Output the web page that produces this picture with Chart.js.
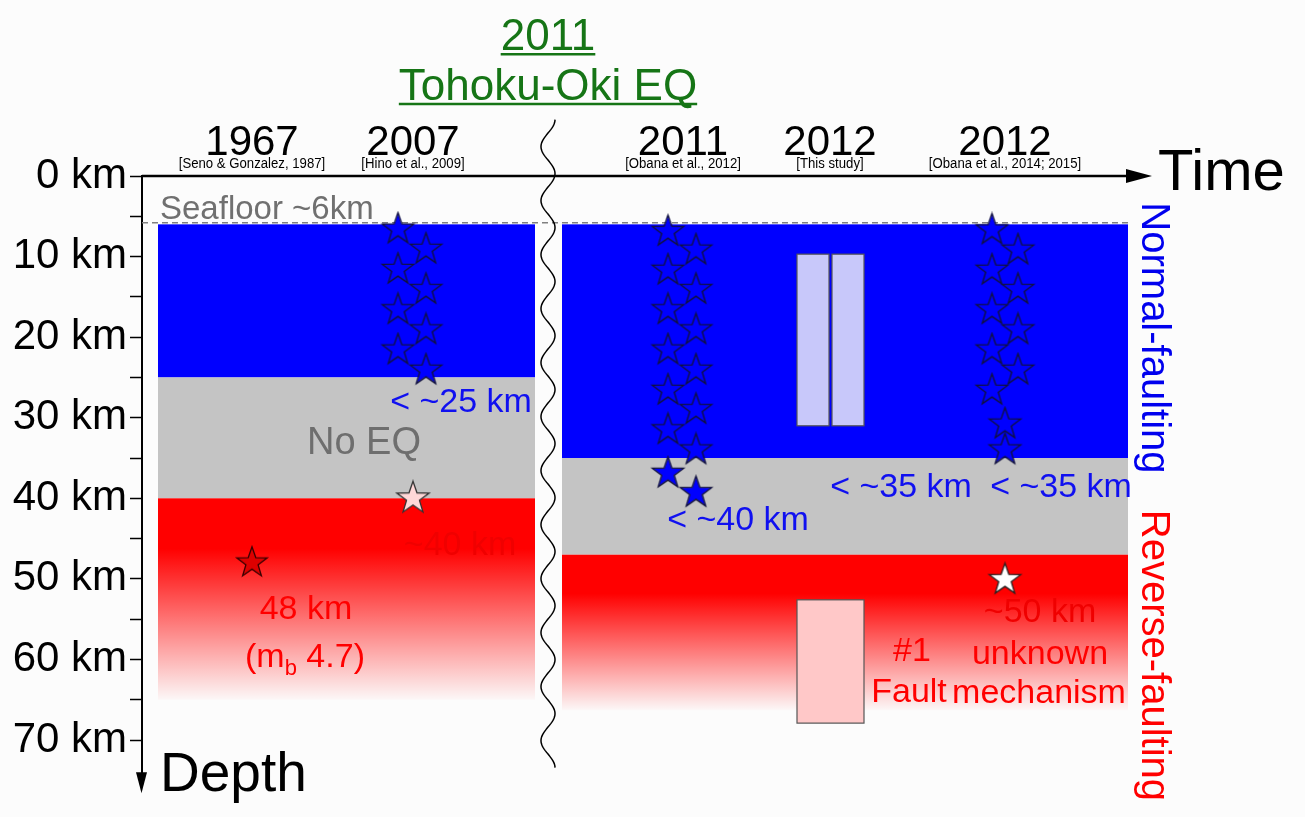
<!DOCTYPE html>
<html>
<head>
<meta charset="utf-8">
<script src="https://cdn.jsdelivr.net/npm/chart.js@4"></script>
<style>
html, body { margin: 0; padding: 0; background: #fcfcfc; }
</style>
</head>
<body>
<canvas id="depthchart" width="1305" height="817"></canvas>
<script>
// depth profile data (x in time-axis units 0..100, y in km)
var yearLabels = ['1967', '2007', '2011', '2012', '2012'];
var yearCitations = ['[Seno & Gonzalez, 1987]', '[Hino et al., 2009]', '[Obana et al., 2012]', '[This study]', '[Obana et al., 2014; 2015]'];
var yearX = [11.0, 27.1, 54.1, 68.8, 86.3];
var depthTicks = [0, 5, 10, 15, 20, 25, 30, 35, 40, 45, 50, 55, 60, 65, 70];

var panelLeft = [1.6, 42.0];
var panelRight = [39.3, 98.6];
var normalTop = [6, 6];
var normalBase = [25, 35];
var reverseTop = [40, 47];
var reverseBase = [65, 66.3];
var seafloorDepth = 6;
var breakX = 40.6;

var studyLeft = [65.5, 69.0, 65.5];
var studyRight = [68.7, 72.2, 72.2];
var studyTop = [9.7, 9.7, 52.6];
var studyBottom = [31.0, 31.0, 67.9];

var eq2007X = [25.6, 28.4, 25.6, 28.4, 25.6, 28.4, 25.6, 28.4];
var eq2007Depth = [6.6, 9.1, 11.6, 14.1, 16.6, 19.1, 21.6, 24.1];
var eq2011X = [52.6, 55.4, 52.6, 55.4, 52.6, 55.4, 52.6, 55.4, 52.6, 55.4, 52.6, 55.4, 52.6, 55.4];
var eq2011Depth = [6.9, 9.2, 11.7, 14.1, 16.6, 19.1, 21.6, 24.1, 26.6, 29.0, 31.5, 34.0, 36.9, 39.3];
var eq2012X = [85.0, 87.6, 85.0, 87.6, 85.0, 87.6, 85.0, 87.6, 85.0, 86.3, 86.3];
var eq2012Depth = [6.7, 9.2, 11.7, 14.1, 16.6, 19.1, 21.6, 24.1, 26.6, 30.8, 34.0];

var eq1967Deep = [{x: 11.0, y: 48}];
var eq2007Deep = [{x: 27.1, y: 40}];
var eq2012Deep = [{x: 86.3, y: 50.1}];

var FONT = '"Liberation Sans", Arial, Helvetica, sans-serif';

var makeStar = function(fill, stroke, r) {
    var size = Math.ceil(r * 2 + 4);
    var c = document.createElement('canvas');
    c.width = size;
    c.height = size;
    var g = c.getContext('2d');
    g.beginPath();
    for (var i = 0; i < 10; i++) {
        var rad = i % 2 === 0 ? r : r * 0.4;
        var a = -Math.PI / 2 + i * Math.PI / 5;
        g.lineTo(size / 2 + rad * Math.cos(a), size / 2 + rad * Math.sin(a));
    }
    g.closePath();
    if (fill) { g.fillStyle = fill; g.fill(); }
    if (stroke) { g.strokeStyle = stroke; g.lineWidth = 1.3; g.stroke(); }
    return c;
};

var toPoints = function(xs, ys) {
    return xs.map(function(x, i) { return {x: x, y: ys[i]}; });
};

var blueFill = makeStar('#0000ff', null, 16.5);
var blueLine = makeStar(null, '#121236', 16.5);

var text = function(ctx, str, x, y, size, color, align) {
    ctx.font = size + 'px ' + FONT;
    ctx.fillStyle = color;
    ctx.textAlign = align || 'center';
    ctx.textBaseline = 'alphabetic';
    ctx.fillText(str, x, y);
};

var depthPlugin = {
    id: 'depthPlugin',
    beforeDraw: function(chart) {
        var ctx = chart.ctx;
        ctx.save();
        ctx.fillStyle = '#fcfcfc';
        ctx.fillRect(0, 0, chart.width, chart.height);
        ctx.restore();
    },
    beforeDatasetsDraw: function(chart) {
        var ctx = chart.ctx, xs = chart.scales.x, ys = chart.scales.y;
        ctx.save();
        for (var i = 0; i < panelLeft.length; i++) {
            var l = xs.getPixelForValue(panelLeft[i]), r = xs.getPixelForValue(panelRight[i]);
            var t = ys.getPixelForValue(normalTop[i]), nb = ys.getPixelForValue(normalBase[i]);
            var rt = ys.getPixelForValue(reverseTop[i]), rb = ys.getPixelForValue(reverseBase[i]);
            ctx.fillStyle = '#0000ff';
            ctx.fillRect(l, t, r - l, nb - t);
            ctx.fillStyle = '#c4c4c4';
            ctx.fillRect(l, nb, r - l, rt - nb);
            var grad = ctx.createLinearGradient(0, rt, 0, rb);
            grad.addColorStop(0, 'rgb(255,0,0)');
            grad.addColorStop(0.25, 'rgb(255,0,0)');
            grad.addColorStop(1, 'rgba(255,0,0,0.02)');
            ctx.fillStyle = grad;
            ctx.fillRect(l, rt, r - l, rb - rt);
        }
        // this study boxes
        for (var j = 0; j < studyLeft.length; j++) {
            var bl = xs.getPixelForValue(studyLeft[j]), br = xs.getPixelForValue(studyRight[j]);
            var bt = ys.getPixelForValue(studyTop[j]), bb = ys.getPixelForValue(studyBottom[j]);
            ctx.fillStyle = studyTop[j] < 40 ? '#c8c8fa' : '#ffc8c8';
            ctx.fillRect(bl, bt, br - bl, bb - bt);
            ctx.strokeStyle = '#555555';
            ctx.lineWidth = 1.2;
            ctx.strokeRect(bl, bt, br - bl, bb - bt);
        }
        // seafloor dashed line
        var sy = ys.getPixelForValue(seafloorDepth) - 1.5;
        ctx.strokeStyle = '#808080';
        ctx.lineWidth = 1.5;
        ctx.setLineDash([6, 4]);
        ctx.beginPath();
        ctx.moveTo(xs.getPixelForValue(0), sy);
        ctx.lineTo(xs.getPixelForValue(98.8), sy);
        ctx.stroke();
        ctx.setLineDash([]);

        // time axis with arrow
        var ay = ys.getPixelForValue(0);
        ctx.strokeStyle = '#000';
        ctx.lineWidth = 2.5;
        ctx.beginPath();
        ctx.moveTo(xs.getPixelForValue(0), ay);
        ctx.lineTo(xs.getPixelForValue(98.6), ay);
        ctx.stroke();
        ctx.fillStyle = '#000';
        ctx.beginPath();
        ctx.moveTo(xs.getPixelForValue(101.0), ay);
        ctx.lineTo(xs.getPixelForValue(98.4), ay - 7);
        ctx.lineTo(xs.getPixelForValue(98.4), ay + 7);
        ctx.closePath();
        ctx.fill();
        // depth arrow head
        var ax = xs.getPixelForValue(0) - 0.5;
        ctx.beginPath();
        ctx.moveTo(ax, ys.getPixelForValue(76.6));
        ctx.lineTo(ax - 5.5, ys.getPixelForValue(74.0));
        ctx.lineTo(ax + 5.5, ys.getPixelForValue(74.0));
        ctx.closePath();
        ctx.fill();

        // break symbol
        var wx = xs.getPixelForValue(breakX);
        var wy0 = ys.getPixelForValue(-7), wy1 = ys.getPixelForValue(73.5);
        ctx.strokeStyle = '#000';
        ctx.lineWidth = 1.5;
        ctx.beginPath();
        for (var py = wy0; py <= wy1; py += 1) {
            var px = wx + 7 * Math.cos((py - wy0) / 54 * 2 * Math.PI);
            if (py === wy0) ctx.moveTo(px, py); else ctx.lineTo(px, py);
        }
        ctx.stroke();
        ctx.restore();
    },
    afterDatasetsDraw: function(chart) {
        var ctx = chart.ctx, xs = chart.scales.x, ys = chart.scales.y;
        var X = function(v) { return xs.getPixelForValue(v); };
        var Y = function(v) { return ys.getPixelForValue(v); };
        ctx.save();
        // title
        var green = '#167516';
        var tx = X(breakX);
        var titles = [['2011', -15.6, 4], ['Tohoku-Oki EQ', -9.43, 4]];
        titles.forEach(function(t) {
            text(ctx, t[0], tx, Y(t[1]), 44, green);
            var w = ctx.measureText(t[0]).width;
            ctx.strokeStyle = green;
            ctx.lineWidth = 2.5;
            ctx.beginPath();
            ctx.moveTo(tx - w / 2, Y(t[1]) + t[2]);
            ctx.lineTo(tx + w / 2, Y(t[1]) + t[2]);
            ctx.stroke();
        });
        // year headers
        for (var i = 0; i < yearLabels.length; i++) {
            text(ctx, yearLabels[i], X(yearX[i]), Y(-2.6), 42, '#000');
            ctx.save();
            ctx.translate(X(yearX[i]), Y(-1.0));
            ctx.scale(0.85, 1);
            text(ctx, yearCitations[i], 0, 0, 15.5, '#000');
            ctx.restore();
        }
        text(ctx, 'Time', X(101.6), Y(1.74), 58, '#000', 'left');
        text(ctx, 'Depth', X(1.8), Y(76.3), 55, '#000', 'left');
        text(ctx, 'Seafloor ~6km', X(1.8), Y(5.3), 33, '#707070', 'left');

        var blue = '#1010f0', red = '#ff0000';
        text(ctx, '< ~25 km', X(31.9), Y(29.3), 34, blue);
        text(ctx, 'No EQ', X(22.2), Y(34.5), 38, '#6e6e6e');
        text(ctx, '~40 km', X(31.8), Y(47.0), 34, '#f00000');
        text(ctx, '48 km', X(16.4), Y(55.0), 34, red);
        // (m_b 4.7)
        ctx.font = '34px ' + FONT;
        var w1 = ctx.measureText('(m').width, w3 = ctx.measureText(' 4.7)').width;
        ctx.font = '22px ' + FONT;
        var w2 = ctx.measureText('b').width;
        var sx = X(16.3) - (w1 + w2 + w3) / 2, by = Y(60.9);
        text(ctx, '(m', sx, by, 34, red, 'left');
        text(ctx, 'b', sx + w1, by + 8, 22, red, 'left');
        text(ctx, ' 4.7)', sx + w1 + w2, by, 34, red, 'left');

        text(ctx, '< ~40 km', X(59.6), Y(43.9), 34, blue);
        text(ctx, '< ~35 km', X(75.9), Y(39.8), 34, blue);
        text(ctx, '< ~35 km', X(91.9), Y(39.8), 34, blue);
        text(ctx, '~50 km', X(89.8), Y(55.3), 34, '#f00000');
        text(ctx, 'unknown', X(89.8), Y(60.6), 34, red);
        text(ctx, 'mechanism', X(89.7), Y(65.4), 34, red);
        text(ctx, '#1', X(77.0), Y(60.2), 34, red);
        text(ctx, 'Fault', X(76.7), Y(65.3), 34, red);

        // vertical mechanism labels
        var rot = [['Normal-faulting', 20.1, '#0000ee'], ['Reverse-faulting', 59.5, '#ff0000']];
        rot.forEach(function(r) {
            ctx.save();
            ctx.translate(X(100.0), Y(r[1]));
            ctx.rotate(Math.PI / 2);
            text(ctx, r[0], 0, 0, 40, r[2]);
            ctx.restore();
        });
        ctx.restore();
    }
};

var ctx = document.getElementById('depthchart').getContext('2d');
var depthChart = new Chart(ctx, {
    type: 'scatter',
    data: {
        datasets: [
            {label: '2012 deep', data: eq2012Deep, pointStyle: makeStar('#ffffff', '#222222', 16.5), order: 1, clip: false},
            {label: '2007 deep', data: eq2007Deep, pointStyle: makeStar('#ffd8d8', '#333333', 17), order: 1, clip: false},
            {label: '1967', data: eq1967Deep, pointStyle: makeStar('#dd0000', '#3a0000', 16), order: 1, clip: false},
            {label: '2007 outline', data: toPoints(eq2007X, eq2007Depth), pointStyle: blueLine, order: 2, clip: false},
            {label: '2011 outline', data: toPoints(eq2011X, eq2011Depth), pointStyle: blueLine, order: 2, clip: false},
            {label: '2012 outline', data: toPoints(eq2012X, eq2012Depth), pointStyle: blueLine, order: 2, clip: false},
            {label: '2007', data: toPoints(eq2007X, eq2007Depth), pointStyle: blueFill, order: 3, clip: false},
            {label: '2011', data: toPoints(eq2011X, eq2011Depth), pointStyle: blueFill, order: 3, clip: false},
            {label: '2012', data: toPoints(eq2012X, eq2012Depth), pointStyle: blueFill, order: 3, clip: false}
        ]
    },
    options: {
        responsive: false,
        animation: false,
        layout: {autoPadding: false, padding: {left: 0, right: 163, top: 176, bottom: 40.7}},
        plugins: {legend: {display: false}, tooltip: {enabled: false}},
        scales: {
            x: {type: 'linear', display: false, min: 0, max: 100},
            y: {
                type: 'linear',
                reverse: true,
                min: 0,
                max: 74.5,
                afterFit: function(scale) { scale.width = 142; },
                afterBuildTicks: function(scale) {
                    scale.ticks = depthTicks.map(function(v) { return {value: v}; });
                },
                ticks: {
                    autoSkip: false,
                    padding: 3,
                    color: '#000',
                    font: {family: FONT, size: 42},
                    callback: function(v) { return v % 10 === 0 ? v + ' km' : ''; }
                },
                grid: {drawOnChartArea: false, tickLength: 12, tickColor: '#000', tickWidth: 1.5},
                border: {color: '#000', width: 2}
            }
        }
    },
    plugins: [depthPlugin]
});
</script>
</body>
</html>
